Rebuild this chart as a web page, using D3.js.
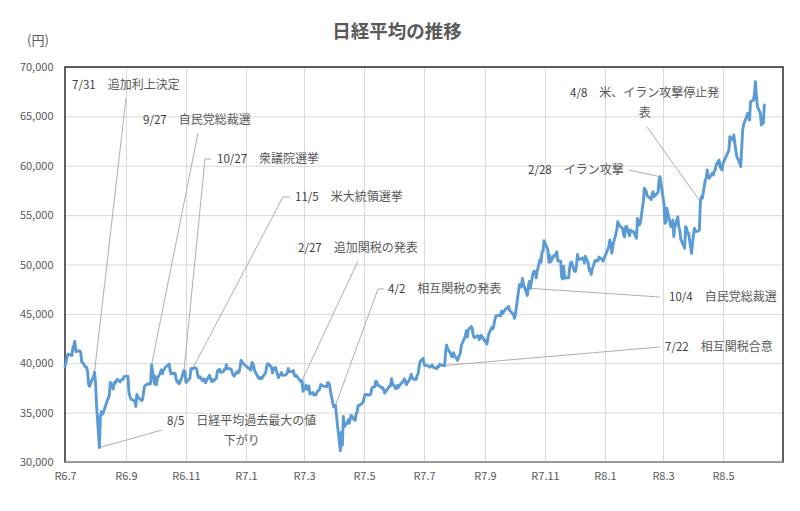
<!DOCTYPE html>
<html lang="ja">
<head>
<meta charset="utf-8">
<title>日経平均の推移</title>
<script src="https://cdn.jsdelivr.net/npm/d3@7"></script>
<style>
  body { margin: 0; background: #fff; }
  #chart text { font-family: "Noto Sans CJK JP", "Noto Sans", sans-serif; }
</style>
</head>
<body>
<div id="chart"></div>
<script>
// Daily closes [MM-DD, 円]
const nikkei2024 = [
  ["07-01", 39631], ["07-02", 40074], ["07-03", 40580], ["07-04", 40913], ["07-05", 40912],
  ["07-08", 40780], ["07-09", 41580], ["07-10", 41831], ["07-11", 42224], ["07-12", 41190],
  ["07-16", 41275], ["07-17", 41097], ["07-18", 40126], ["07-19", 40063], ["07-22", 39599],
  ["07-23", 39594], ["07-24", 39154], ["07-25", 37869], ["07-26", 37667], ["07-29", 38468],
  ["07-30", 38526], ["07-31", 39102], ["08-01", 38126], ["08-02", 35910], ["08-05", 31458],
  ["08-06", 34675], ["08-07", 35090], ["08-08", 34831], ["08-09", 35025], ["08-13", 36233],
  ["08-14", 36443], ["08-15", 36727], ["08-16", 38063], ["08-19", 37389], ["08-20", 38063],
  ["08-21", 37951], ["08-22", 38211], ["08-23", 38364], ["08-26", 38110], ["08-27", 38289],
  ["08-28", 38372], ["08-29", 38363], ["08-30", 38648], ["09-02", 38700], ["09-03", 38686],
  ["09-04", 37047], ["09-05", 36657], ["09-06", 36392], ["09-09", 36215], ["09-10", 36159],
  ["09-11", 35620], ["09-12", 36833], ["09-13", 36582], ["09-17", 36203], ["09-18", 36380],
  ["09-19", 37155], ["09-20", 37724], ["09-24", 37941], ["09-25", 37871], ["09-26", 37926],
  ["09-27", 39830], ["09-30", 37920], ["10-01", 38652], ["10-02", 37809], ["10-03", 38553],
  ["10-04", 38636], ["10-07", 39333], ["10-08", 38938], ["10-09", 39278], ["10-10", 39381],
  ["10-11", 39606], ["10-15", 39911], ["10-16", 39181], ["10-17", 38911], ["10-18", 38982],
  ["10-21", 38955], ["10-22", 38412], ["10-23", 38105], ["10-24", 38143], ["10-25", 37914],
  ["10-28", 38606], ["10-29", 39027], ["10-30", 39277], ["10-31", 39081], ["11-01", 38054],
  ["11-05", 38475], ["11-06", 39480], ["11-07", 39381], ["11-08", 39501], ["11-11", 39534],
  ["11-12", 39377], ["11-13", 38722], ["11-14", 38536], ["11-15", 38643], ["11-18", 38221],
  ["11-19", 38415], ["11-20", 38352], ["11-21", 38027], ["11-22", 38284], ["11-25", 38780],
  ["11-26", 38443], ["11-27", 38135], ["11-28", 38349], ["11-29", 38208], ["12-02", 38514],
  ["12-03", 39249], ["12-04", 39277], ["12-05", 39396], ["12-06", 39091], ["12-09", 39161],
  ["12-10", 39368], ["12-11", 39373], ["12-12", 39850], ["12-13", 39471], ["12-16", 39458],
  ["12-17", 39365], ["12-18", 39082], ["12-19", 38814], ["12-20", 38702], ["12-23", 39161],
  ["12-24", 39037], ["12-25", 39130], ["12-26", 39568], ["12-27", 40281], ["12-30", 39895]
];

const nikkei2025 = [
  ["01-06", 39307], ["01-07", 40083], ["01-08", 39981], ["01-09", 39605], ["01-10", 39190],
  ["01-14", 38474], ["01-15", 38445], ["01-16", 38573], ["01-17", 38451], ["01-20", 38903],
  ["01-21", 39028], ["01-22", 39646], ["01-23", 39959], ["01-24", 39931], ["01-27", 39566],
  ["01-28", 39017], ["01-29", 39415], ["01-30", 39514], ["01-31", 39572], ["02-03", 38520],
  ["02-04", 38798], ["02-05", 38831], ["02-06", 39067], ["02-07", 38787], ["02-10", 38801],
  ["02-12", 38964], ["02-13", 39461], ["02-14", 39149], ["02-17", 39174], ["02-18", 39270],
  ["02-19", 38878], ["02-20", 38678], ["02-21", 38777], ["02-25", 38238], ["02-26", 38142],
  ["02-27", 38256], ["02-28", 37156], ["03-03", 37785], ["03-04", 37331], ["03-05", 37418],
  ["03-06", 37705], ["03-07", 36887], ["03-10", 37028], ["03-11", 36793], ["03-12", 36819],
  ["03-13", 36790], ["03-14", 37053], ["03-17", 37397], ["03-18", 37846], ["03-19", 37751],
  ["03-21", 37677], ["03-24", 37608], ["03-25", 38027], ["03-26", 38027], ["03-27", 37800],
  ["03-28", 37120], ["03-31", 35618], ["04-01", 35625], ["04-02", 35726], ["04-03", 34736],
  ["04-04", 33781], ["04-07", 31137], ["04-08", 33013], ["04-09", 31714], ["04-10", 34609],
  ["04-11", 33586], ["04-14", 33982], ["04-15", 34267], ["04-16", 33920], ["04-17", 34377],
  ["04-18", 34730], ["04-21", 34280], ["04-22", 34221], ["04-23", 34868], ["04-24", 35040],
  ["04-25", 35706], ["04-28", 35840], ["04-30", 36045], ["05-01", 36452], ["05-02", 36831],
  ["05-07", 36780], ["05-08", 36928], ["05-09", 37503], ["05-12", 37644], ["05-13", 38183],
  ["05-14", 38128], ["05-15", 37755], ["05-16", 37754], ["05-19", 37499], ["05-20", 37529],
  ["05-21", 37299], ["05-22", 36986], ["05-23", 37160], ["05-26", 37532], ["05-27", 37724],
  ["05-28", 37722], ["05-29", 38433], ["05-30", 37965], ["06-02", 37471], ["06-03", 37446],
  ["06-04", 37747], ["06-05", 37555], ["06-06", 37741], ["06-09", 38089], ["06-10", 38211],
  ["06-11", 38421], ["06-12", 38173], ["06-13", 37834], ["06-16", 38311], ["06-17", 38537],
  ["06-18", 38885], ["06-19", 38488], ["06-20", 38403], ["06-23", 38354], ["06-24", 38791],
  ["06-25", 38942], ["06-26", 39584], ["06-27", 40150], ["06-30", 40487], ["07-01", 39986],
  ["07-02", 39762], ["07-03", 39785], ["07-04", 39811], ["07-07", 39588], ["07-08", 39688],
  ["07-09", 39821], ["07-10", 39646], ["07-11", 39570], ["07-14", 39459], ["07-15", 39679],
  ["07-16", 39663], ["07-17", 39901], ["07-18", 39819], ["07-22", 39775], ["07-23", 41171],
  ["07-24", 41826], ["07-25", 41456], ["07-28", 40998], ["07-29", 40675], ["07-30", 40654],
  ["07-31", 41070], ["08-01", 40800], ["08-04", 40290], ["08-05", 40549], ["08-06", 40794],
  ["08-07", 41059], ["08-08", 41820], ["08-12", 42718], ["08-13", 43275], ["08-14", 42649],
  ["08-15", 43378], ["08-18", 43714], ["08-19", 43546], ["08-20", 42889], ["08-21", 42610],
  ["08-22", 42633], ["08-25", 42807], ["08-26", 42394], ["08-27", 42520], ["08-28", 42829],
  ["08-29", 42718], ["09-01", 42188], ["09-02", 42310], ["09-03", 41938], ["09-04", 42580],
  ["09-05", 43019], ["09-08", 43644], ["09-09", 43459], ["09-10", 43838], ["09-11", 44372],
  ["09-12", 44768], ["09-16", 44902], ["09-17", 44790], ["09-18", 45303], ["09-19", 45046],
  ["09-22", 45494], ["09-24", 45630], ["09-25", 45754], ["09-26", 45355], ["09-29", 45044],
  ["09-30", 44933], ["10-01", 44550], ["10-02", 44937], ["10-03", 45770], ["10-06", 47944],
  ["10-07", 47951], ["10-08", 47735], ["10-09", 48580], ["10-10", 48089], ["10-14", 46847],
  ["10-15", 47672], ["10-16", 48277], ["10-17", 47582], ["10-20", 49186], ["10-21", 49316],
  ["10-22", 49308], ["10-23", 48642], ["10-24", 49300], ["10-27", 50512], ["10-28", 50220],
  ["10-29", 51308], ["10-30", 51326], ["10-31", 52411], ["11-04", 51497], ["11-05", 50212],
  ["11-06", 50884], ["11-07", 50276], ["11-10", 50912], ["11-11", 50843], ["11-12", 51063],
  ["11-13", 51281], ["11-14", 50377], ["11-17", 50324], ["11-18", 48703], ["11-19", 48538],
  ["11-20", 49824], ["11-21", 48626], ["11-25", 48660], ["11-26", 49559], ["11-27", 50167],
  ["11-28", 50254], ["12-01", 49303], ["12-02", 49303], ["12-03", 49865], ["12-04", 51028],
  ["12-05", 50492], ["12-08", 50581], ["12-09", 50655], ["12-10", 50603], ["12-11", 50149],
  ["12-12", 50837], ["12-15", 50168], ["12-16", 49383], ["12-17", 49512], ["12-18", 49001],
  ["12-19", 49507], ["12-22", 50402], ["12-23", 50413], ["12-24", 50344], ["12-25", 50408],
  ["12-26", 50750], ["12-29", 50527], ["12-30", 50339]
];

const nikkei2026 = [
  ["01-05", 51830], ["01-06", 52480], ["01-07", 51960], ["01-08", 51130], ["01-09", 51900],
  ["01-13", 53500], ["01-14", 54330], ["01-15", 54100], ["01-16", 53900], ["01-19", 53660],
  ["01-20", 52990], ["01-21", 52800], ["01-22", 53830], ["01-23", 53850], ["01-26", 52900],
  ["01-27", 53490], ["01-28", 53350], ["01-29", 53380], ["01-30", 53320], ["02-02", 52660],
  ["02-03", 54670], ["02-04", 54300], ["02-05", 54000], ["02-06", 54250], ["02-09", 56360],
  ["02-10", 57720], ["02-12", 57370], ["02-13", 56940], ["02-16", 56700], ["02-17", 56570],
  ["02-18", 57140], ["02-19", 57370], ["02-20", 56870], ["02-24", 57320], ["02-25", 58580],
  ["02-26", 58890], ["02-27", 58210], ["03-02", 56100], ["03-03", 54170], ["03-04", 54300],
  ["03-05", 55690], ["03-06", 55200], ["03-09", 53830], ["03-10", 54000], ["03-11", 54500],
  ["03-12", 52830], ["03-13", 53800], ["03-16", 54840], ["03-17", 53830], ["03-18", 53500],
  ["03-19", 52600], ["03-23", 51640], ["03-24", 53830], ["03-25", 53700], ["03-26", 53160],
  ["03-27", 53160], ["03-30", 51130], ["03-31", 52100], ["04-01", 53000], ["04-02", 53660],
  ["04-03", 53320], ["04-06", 53400], ["04-07", 53490], ["04-08", 56360], ["04-09", 56870],
  ["04-10", 56700], ["04-13", 58560], ["04-14", 58730], ["04-15", 59570], ["04-16", 58900],
  ["04-17", 58730], ["04-20", 59230], ["04-21", 59060], ["04-22", 59400], ["04-23", 59570],
  ["04-24", 60070], ["04-27", 60580], ["04-28", 59900], ["04-30", 59570], ["05-01", 60240],
  ["05-07", 61590], ["05-08", 62940], ["05-11", 62610], ["05-12", 63110], ["05-13", 62300],
  ["05-14", 61590], ["05-15", 60920], ["05-18", 60300], ["05-19", 59900], ["05-20", 61800],
  ["05-21", 63620], ["05-22", 64200], ["05-25", 64970], ["05-26", 65310], ["05-27", 65000],
  ["05-28", 64630], ["05-29", 66490], ["06-01", 66660], ["06-02", 67300], ["06-03", 68510],
  ["06-04", 66990], ["06-05", 66000], ["06-08", 65310], ["06-09", 64120], ["06-10", 64630],
  ["06-11", 64300], ["06-12", 66150]
];

// Axis ticks
const yTicks = [30000, 35000, 40000, 45000, 50000, 55000, 60000, 65000, 70000];
const xTickDates = ["2024-07-01", "2024-09-01", "2024-11-01", "2025-01-01", "2025-03-01", "2025-05-01",
                    "2025-07-01", "2025-09-01", "2025-11-01", "2026-01-01", "2026-03-01", "2026-05-01"];
const xTickLabels = ["R6.7", "R6.9", "R6.11", "R7.1", "R7.3", "R7.5",
                     "R7.7", "R7.9", "R7.11", "R8.1", "R8.3", "R8.5"];

// Event call-outs
const eventLabels = ["7/31", "9/27", "10/27", "11/5", "2/27", "4/2", "8/5", "7/22", "10/4", "2/28", "4/8"];
const eventTexts = ["追加利上決定", "自民党総裁選", "衆議院選挙", "米大統領選挙", "追加関税の発表", "相互関税の発表",
                    "日経平均過去最大の値下がり", "相互関税合意", "自民党総裁選", "イラン攻撃", "米、イラン攻撃停止発表"];
const eventAnchors = ["2024-07-31", "2024-09-27", "2024-10-30", "2024-11-08", "2025-02-27", "2025-04-02",
                      "2024-08-05", "2025-07-22", "2025-10-17", "2026-02-26", "2026-04-08"];

// Where the call-out boxes sit (pixels)
const eventLayout = [
  { x: 72,  y: 86,  leader: [[126, 98]] },
  { x: 143, y: 121, leader: [[198, 133]] },
  { x: 217, y: 160, leader: [[211, 159], [205, 159]] },
  { x: 295, y: 198, leader: [[290, 197], [283, 197]] },
  { x: 298, y: 249, leader: [[358, 261]] },
  { x: 388, y: 290, leader: [[384, 289], [378, 289]] },
  { x: 167, y: 422, wrap: 10, leader: [[162, 430]] },
  { x: 665, y: 348, leader: [[660, 347]] },
  { x: 669, y: 298, leader: [[660, 297]] },
  { x: 528, y: 171, leader: [[629, 170]] },
  { x: 570, y: 94,  wrap: 10, leader: [[647, 127]] }
];

const parseDay = d3.timeParse('%Y-%m-%d');

function buildSeries() {
    const series = [];
    [[2024, nikkei2024], [2025, nikkei2025], [2026, nikkei2026]].forEach(([yr, rows]) => {
        rows.forEach(([md, v]) => series.push({ date: parseDay(`${yr}-${md}`), value: v }));
    });
    return series;
}

function drawChart() {
    const width = 800, height = 511;
    const plot = { left: 65, top: 67, right: 783, bottom: 462 };
    const series = buildSeries();

    const svg = d3.select('#chart').append('svg')
        .attr('width', width)
        .attr('height', height);

    const x = d3.scaleTime()
        .domain([parseDay('2024-07-01'), parseDay('2026-07-01')])
        .range([plot.left, plot.right]);
    const y = d3.scaleLinear()
        .domain([30000, 70000])
        .range([plot.bottom, plot.top]);

    // gridlines
    const vGrid = svg.append('g')
        .attr('transform', `translate(0,${plot.bottom})`)
        .call(d3.axisBottom(x)
            .tickValues(xTickDates.slice(1).map(parseDay))
            .tickSize(-(plot.bottom - plot.top))
            .tickFormat(''));
    const hGrid = svg.append('g')
        .attr('transform', `translate(${plot.left},0)`)
        .call(d3.axisLeft(y)
            .tickValues(yTicks)
            .tickSize(-(plot.right - plot.left))
            .tickFormat(''));
    [vGrid, hGrid].forEach(g => {
        g.select('.domain').remove();
        g.selectAll('line').attr('stroke', '#d9d9d9').attr('stroke-width', 1);
    });

    // plot frame
    svg.append('rect')
        .attr('x', plot.left).attr('y', plot.top)
        .attr('width', plot.right - plot.left)
        .attr('height', plot.bottom - plot.top)
        .attr('fill', 'none')
        .attr('stroke', '#3a3a3a')
        .attr('stroke-width', 1.6);

    // axes labels
    const yAxis = svg.append('g')
        .attr('transform', `translate(${plot.left},0)`)
        .call(d3.axisLeft(y).tickValues(yTicks).tickSize(0).tickPadding(11.5).tickFormat(d3.format(',')));
    const xAxis = svg.append('g')
        .attr('transform', `translate(0,${plot.bottom})`)
        .call(d3.axisBottom(x).tickValues(xTickDates.map(parseDay)).tickSize(0).tickPadding(10)
            .tickFormat((d, i) => xTickLabels[i]));
    yAxis.select('.domain').remove();
    xAxis.select('.domain')
        .attr('stroke', '#9a9a9a')
        .attr('stroke-width', 1.8)
        .attr('d', `M${plot.left},0H${plot.right}`);
    [yAxis, xAxis].forEach(g => g.selectAll('text')
        .attr('fill', '#595959')
        .style('font-size', '11px'));

    // title and unit
    svg.append('text')
        .attr('x', 397).attr('y', 33)
        .attr('text-anchor', 'middle')
        .attr('dominant-baseline', 'middle')
        .attr('fill', '#595959')
        .style('font-size', '18.5px')
        .style('font-weight', 'bold')
        .text('日経平均の推移');
    svg.append('text')
        .attr('x', 38).attr('y', 41)
        .attr('text-anchor', 'middle')
        .attr('dominant-baseline', 'middle')
        .attr('fill', '#595959')
        .style('font-size', '13px')
        .text('(円)');

    // leader lines to event points
    const byDate = new Map(series.map(d => [+d.date, d]));
    const leaderLine = d3.line();
    eventAnchors.forEach((a, i) => {
        const p = byDate.get(+parseDay(a));
        const pts = eventLayout[i].leader.concat([[x(p.date), y(p.value)]]);
        svg.append('path')
            .attr('d', leaderLine(pts))
            .attr('fill', 'none')
            .attr('stroke', '#a6a6a6')
            .attr('stroke-width', 0.9);
    });

    // price line
    const line = d3.line()
        .x(d => x(d.date))
        .y(d => y(d.value));
    svg.append('path')
        .datum(series)
        .attr('d', line)
        .attr('fill', 'none')
        .attr('stroke', '#5b9bd5')
        .attr('stroke-width', 2.9)
        .attr('stroke-linejoin', 'round')
        .attr('stroke-linecap', 'round');

    // event labels
    eventLabels.forEach((lab, i) => {
        const lay = eventLayout[i];
        const txt = eventTexts[i];
        const first = lay.wrap ? txt.slice(0, lay.wrap) : txt;
        const t = svg.append('text')
            .attr('x', lay.x).attr('y', lay.y)
            .attr('dominant-baseline', 'middle')
            .style('font-size', '12px');
        t.append('tspan').attr('fill', '#404040').style('font-size', '11.5px').text(lab);
        t.append('tspan').attr('fill', '#595959').text('\u3000' + first);
        if (lay.wrap) {
            const cx = lay.x + t.node().getComputedTextLength() / 2;
            svg.append('text')
                .attr('x', cx).attr('y', lay.y + 20)
                .attr('text-anchor', 'middle')
                .attr('dominant-baseline', 'middle')
                .attr('fill', '#595959')
                .style('font-size', '12px')
                .text(txt.slice(lay.wrap));
        }
    });
}

document.addEventListener('DOMContentLoaded', drawChart);
</script>
</body>
</html>
